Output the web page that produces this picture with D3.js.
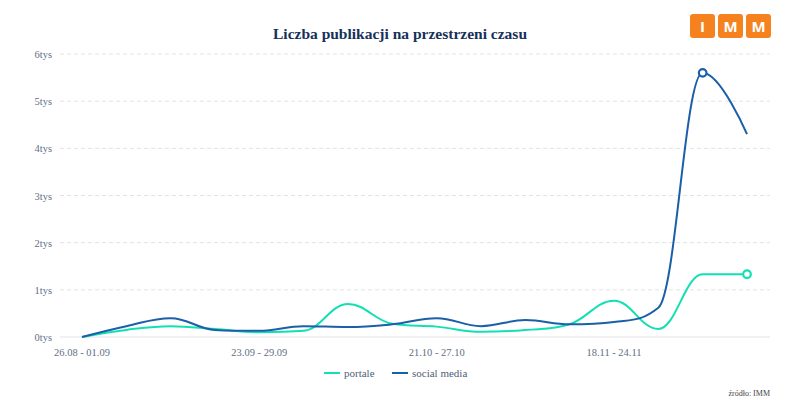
<!DOCTYPE html>
<html>
<head>
<meta charset="utf-8">
<script src="https://cdn.jsdelivr.net/npm/d3@7"></script>
<style>
  html, body { margin: 0; padding: 0; background: #ffffff; }
  svg { display: block; }
</style>
</head>
<body>
<svg id="chart" width="800" height="400"></svg>
<script>
const weeks = ["26.08 - 01.09","02.09 - 08.09","09.09 - 15.09","16.09 - 22.09","23.09 - 29.09","30.09 - 06.10","07.10 - 13.10","14.10 - 20.10","21.10 - 27.10","28.10 - 03.11","04.11 - 10.11","11.11 - 17.11","18.11 - 24.11","25.11 - 01.12","02.12 - 08.12","09.12 - 15.12"];
const portale = [0, 150, 230, 170, 100, 130, 700, 280, 220, 110, 150, 270, 770, 170, 1330, 1330];
const socialMedia = [0, 230, 400, 150, 130, 230, 210, 270, 400, 230, 360, 270, 320, 620, 5600, 4300];
const yTicks = [0, 1000, 2000, 3000, 4000, 5000, 6000];
const xTickLabels = ["26.08 - 01.09", "23.09 - 29.09", "21.10 - 27.10", "18.11 - 24.11"];
const seriesNames = ["portale", "social media"];
const colors = ["#12e0b4", "#1a5fa8"];

const svg = d3.select("#chart");
const plotLeft = 60, plotRight = 770, plotTop = 54, plotBottom = 337;

const x = d3.scalePoint().domain(weeks).range([82, 747]);
const y = d3.scaleLinear().domain([0, 6000]).range([plotBottom, plotTop]);

const serif = "'Liberation Serif', 'Times New Roman', serif";

// Highcharts-like spline curve as a d3 curve factory
function SplineCurve(context) { this._context = context; }
SplineCurve.prototype = {
  areaStart() {}, areaEnd() {},
  lineStart() { this._pts = []; },
  point(px, py) { this._pts.push({x: +px, y: +py}); },
  lineEnd() {
    const p = this._pts, c = this._context, sm = 1.5, den = sm + 1;
    if (!p.length) return;
    c.moveTo(p[0].x, p[0].y);
    for (let i = 1; i < p.length; i++) {
      const pt = p[i], last = p[i - 1], next = p[i + 1];
      let lcx = pt.x, lcy = pt.y;
      if (next) {
        lcx = (sm * pt.x + last.x) / den; lcy = (sm * pt.y + last.y) / den;
        let rcx = (sm * pt.x + next.x) / den, rcy = (sm * pt.y + next.y) / den;
        let corr = 0;
        if (rcx !== lcx) corr = ((rcy - lcy) * (rcx - pt.x)) / (rcx - lcx) + pt.y - rcy;
        lcy += corr; rcy += corr;
        if (lcy > last.y && lcy > pt.y) { lcy = Math.max(last.y, pt.y); rcy = 2 * pt.y - lcy; }
        else if (lcy < last.y && lcy < pt.y) { lcy = Math.min(last.y, pt.y); rcy = 2 * pt.y - lcy; }
        if (rcy > next.y && rcy > pt.y) { rcy = Math.max(next.y, pt.y); lcy = 2 * pt.y - rcy; }
        else if (rcy < next.y && rcy < pt.y) { rcy = Math.min(next.y, pt.y); lcy = 2 * pt.y - rcy; }
        pt.rcx = rcx; pt.rcy = rcy;
      }
      const r1x = last.rcx !== undefined ? last.rcx : last.x;
      const r1y = last.rcy !== undefined ? last.rcy : last.y;
      c.bezierCurveTo(r1x, r1y, lcx, lcy, pt.x, pt.y);
    }
  }
};
const curveSpline = ctx => new SplineCurve(ctx);

// grid
svg.append("g").selectAll("line").data(yTicks).join("line")
  .attr("x1", plotLeft).attr("x2", plotRight)
  .attr("y1", d => y(d)).attr("y2", d => y(d))
  .attr("stroke", "#e3e3e6").attr("stroke-width", 1)
  .attr("stroke-dasharray", d => d === 0 ? null : "4,3");

// y labels
svg.append("g").selectAll("text").data(yTicks).join("text")
  .attr("x", 52).attr("y", d => y(d) + 4)
  .attr("text-anchor", "end")
  .attr("font-family", serif).attr("font-size", 10.5)
  .attr("fill", "#5f6f86")
  .text(d => (d / 1000) + "tys");

// x labels
svg.append("g").selectAll("text").data(xTickLabels).join("text")
  .attr("x", d => x(d)).attr("y", 356)
  .attr("text-anchor", "middle")
  .attr("font-family", serif).attr("font-size", 10.5)
  .attr("fill", "#5f6f86")
  .text(d => d);

const line = d3.line()
  .x((d, i) => x(weeks[i]))
  .y(d => y(d))
  .curve(curveSpline);

[portale, socialMedia].forEach((s, k) => {
  svg.append("path").datum(s)
    .attr("d", line)
    .attr("fill", "none")
    .attr("stroke", colors[k])
    .attr("stroke-width", 2);
});

// markers: last portale point, max social media point
const pi = portale.length - 1;
const si = socialMedia.indexOf(d3.max(socialMedia));
[[portale, pi, 0], [socialMedia, si, 1]].forEach(([s, i, k]) => {
  svg.append("circle")
    .attr("cx", x(weeks[i])).attr("cy", y(s[i]))
    .attr("r", 3.8)
    .attr("fill", "#ffffff")
    .attr("stroke", colors[k]).attr("stroke-width", 2.2);
});

// title
svg.append("text")
  .attr("x", 400).attr("y", 39)
  .attr("text-anchor", "middle")
  .attr("font-family", serif).attr("font-size", 15.5)
  .attr("font-weight", "bold")
  .attr("fill", "#16305a")
  .text("Liczba publikacji na przestrzeni czasu");

// legend
const legX = [324, 392];
seriesNames.forEach((n, k) => {
  svg.append("line")
    .attr("x1", legX[k]).attr("x2", legX[k] + 16)
    .attr("y1", 373).attr("y2", 373)
    .attr("stroke", colors[k]).attr("stroke-width", 2);
  svg.append("text")
    .attr("x", legX[k] + 20).attr("y", 377)
    .attr("font-family", serif).attr("font-size", 11)
    .attr("fill", "#4f5f78")
    .text(n);
});

// source
svg.append("text")
  .attr("x", 770).attr("y", 396)
  .attr("text-anchor", "end")
  .attr("font-family", serif).attr("font-size", 8)
  .attr("fill", "#444")
  .text("źródło: IMM");

// logo
const logo = ["I", "M", "M"];
const lg = svg.append("g");
logo.forEach((c, i) => {
  const lx = 690 + i * 28;
  lg.append("rect").attr("x", lx).attr("y", 14).attr("width", 25).attr("height", 24)
    .attr("rx", 3).attr("fill", "#f5821f");
  lg.append("text").attr("x", lx + 12.5).attr("y", 31.5)
    .attr("text-anchor", "middle")
    .attr("font-family", "'Open Sans', 'DejaVu Sans', sans-serif")
    .attr("font-weight", "bold").attr("font-size", 15)
    .attr("fill", "#ffffff").text(c);
});
</script>
</body>
</html>
